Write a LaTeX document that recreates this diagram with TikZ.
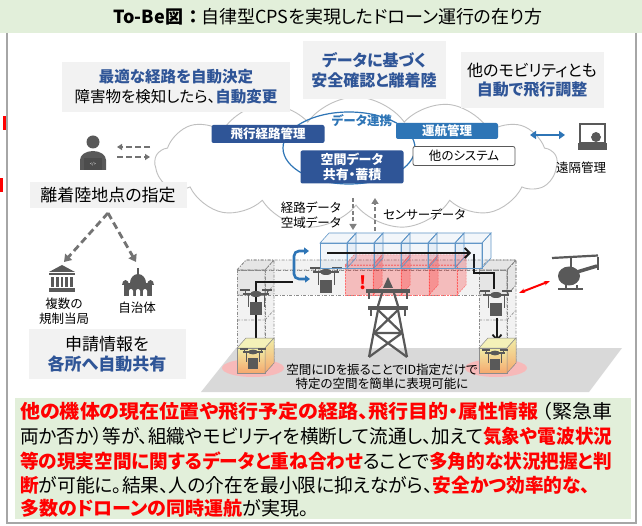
\documentclass[tikz,border=0pt]{standalone}
\usepackage{graphicx}
\usepackage{fontspec}
\setmainfont{Noto Sans CJK JP}[RawFeature=+palt]
\usetikzlibrary{shapes.symbols,arrows.meta}

\definecolor{bandgreen}{HTML}{E2EFDA}
\definecolor{calloutgray}{HTML}{F2F2F2}
\definecolor{deepblue}{HTML}{2F5597}
\definecolor{midblue}{HTML}{2E75B6}
\definecolor{icongray}{HTML}{595959}
\definecolor{cloudline}{HTML}{BFBFBF}
\definecolor{framegray}{HTML}{A6A6A6}
\definecolor{alertred}{HTML}{FF0000}
\definecolor{padyellow}{HTML}{F1EEA6}
\definecolor{padorange}{HTML}{F5A86E}

\newcommand\fsz[2]{\fontsize{#1pt}{#2pt}\selectfont}
\newcommand\hl[1]{\textcolor{alertred}{\bfseries #1}}
\newcommand\bl[1]{\textcolor{deepblue}{\bfseries #1}}
% set a line of text to a given width, keeping its height
\newcommand\fitline[2]{\resizebox{#1}{\height}{#2}}
% cuboid: style, x, y (front top-left), width, height; depth goes up-right
\newcommand\cuboid[5]{%
  \path[#1] (#2,#3) rectangle ++(#4,#5);
  \path[#1] (#2,#3) -- ++(9,-10) -- ++(#4,0) -- ++(-9,10) -- cycle;
  \path[#1] (#2,#3) ++(#4,0) -- ++(9,-10) -- ++(0,#5) -- ++(-9,10) -- cycle;
}

\tikzset{
  callout/.style={fill=calloutgray, inner sep=0pt, align=center},
  tagbox/.style={rounded corners=2pt, inner sep=0pt, align=center, font=\fsz{12.5}{15}\bfseries, text=white},
  smalllabel/.style={font=\fsz{12.5}{15}, inner sep=0pt, align=center},
  bodyline/.style={anchor=west, inner sep=0pt, font=\fsz{19}{22}},
  cellframe/.style={draw=black!45, dash pattern=on 3pt off 1.5pt on 1pt off 1.5pt, line width=0.6pt, fill=black, fill opacity=0.05},
  bluecell/.style={draw=midblue!75, line width=0.6pt, fill=midblue, fill opacity=0.06},
  redcell/.style={draw=red!55, dash pattern=on 2pt off 1pt, line width=0.5pt, fill=red, fill opacity=0.22},
  padfront/.style={draw=black!45, line width=0.5pt, top color=padyellow, bottom color=padorange},
  padtop/.style={draw=black!45, line width=0.5pt, fill=padyellow!80!white},
  flowdata/.style={draw=black!50, line width=2pt, dash pattern=on 4pt off 2.5pt, -{Triangle[length=6pt,width=7pt]}},
  linkarrow/.style={draw=icongray!85, line width=2.2pt, dash pattern=on 6pt off 3pt, -{Triangle[length=5pt,width=6pt]}},
  routearrow/.style={draw=black!55, line width=2.8pt, dash pattern=on 7pt off 4pt, -{Triangle[length=7pt,width=9pt]}},
  trackline/.style={draw=black!90, line width=1.8pt},
  drone/.pic={
    \draw[icongray, line width=1.4pt] (-16,-19) -- (-6,-19) (6,-19) -- (16,-19);
    \draw[icongray, line width=1pt] (-11,-19) -- (-11,-15) (11,-19) -- (11,-15);
    \draw[icongray, line width=1.8pt] (-13,-15) -- (13,-15);
    \fill[icongray] (0,-15) ellipse (6 and 3);
    \draw[icongray, line width=0.9pt] (-8,-15) -- (-8,-2) (8,-15) -- (8,-2);
    \fill[icongray] (-6,-7) rectangle (6,6);
  }
}

\begin{document}
\begin{tikzpicture}[x=1pt,y=-1pt]
\useasboundingbox (0,0) rectangle (642,526);
\fill[white] (0,0) rectangle (642,526);

% heading band
\fill[bandgreen] (0,0) rectangle (642,33);
\node[font=\fsz{18}{20}, inner sep=0pt] (title) at (328,17) {\textbf{To-Be図\hspace{0.35em}：}\hspace{0.15em}自律型CPSを実現したドローン運行の在り方};

% outer frame and edge marks
\draw[framegray, line width=1.6pt] (7,33) -- (7,523) -- (636,523) -- (636,33);
\fill[alertred] (3,116) rectangle (6,130);
\fill[alertred] (0,178) rectangle (3,192);

% cloud platform
\node[cloud, cloud puffs=13, cloud puff arc=110, aspect=3, draw=cloudline, fill=white, line width=0.9pt, minimum width=402pt, minimum height=132pt] (cloud) at (356,163) {};

% callouts
\node[callout, minimum width=228pt, minimum height=50pt, font=\fsz{15.5}{20}] (optroute) at (176,87)
  {\bl{最適な経路を自動決定}\\障害物を検知したら、\bl{自動変更}};
\node[callout, minimum width=143pt, minimum height=58pt, font=\fsz{16}{20}] (safety) at (374,70)
  {\bl{データに基づく}\\\bl{安全確認と離着陸}};
\node[callout, minimum width=143pt, minimum height=56pt, font=\fsz{16}{19}] (mobility) at (532,80)
  {他のモビリティとも\\\bl{自動で飛行調整}};

% data linkage inside the cloud
\draw[midblue, line width=1.2pt] (349,148) ellipse (66 and 36);
\node[font=\fsz{12.5}{15}\bfseries, text=midblue, inner sep=0pt] (linklabel) at (362,121) {データ連携};
\node[tagbox, fill=deepblue, minimum width=113pt, minimum height=18pt] (routemgmt) at (268,134) {飛行経路管理};
\node[tagbox, fill=midblue, minimum width=102pt, minimum height=16pt] (opsmgmt) at (447,131) {運航管理};
\node[tagbox, fill=white, draw=icongray, line width=0.8pt, text=black, font=\fsz{12.5}{15}, minimum width=102pt, minimum height=19pt] (othersys) at (464,156) {他のシステム};
\node[tagbox, fill=deepblue, minimum width=103pt, minimum height=33pt, font=\fsz{13}{15}\bfseries] (spacedata) at (352,167) {空間データ\\共有・蓄積};

% operator on the left
\fill[icongray] (93,142) circle (6.5);
\fill[icongray] (80,170) -- (80,160) arc[start angle=180, end angle=360, x radius=13, y radius=9] -- (106,170) -- cycle;
\fill[black!70] (84,158) rectangle (102,170);
\node[text=white, font=\fsz{4}{4}, inner sep=0pt] (code) at (93,164) {</>};
\coordinate (opA) at (150,147);
\coordinate (opB) at (117,147);
\coordinate (opC) at (117,157);
\coordinate (opD) at (150,157);
\draw[linkarrow] (opA) -- (opB);
\draw[linkarrow] (opC) -- (opD);

% take-off and landing designation
\node[callout, minimum width=157pt, minimum height=26pt, font=\fsz{17}{20}] (site) at (108,195) {離着陸地点の指定};
\coordinate (apex) at (108,213);
\coordinate (gov) at (64,262);
\coordinate (town) at (136,262);
\draw[routearrow] (apex) -- (gov);
\draw[routearrow] (apex) -- (town);

% regulator building
\fill[icongray] (49,272) -- (62,265) -- (75,272) -- cycle;
\fill[icongray] (49,273) rectangle (75,275.5);
\foreach \cx in {52.5,57.3,62,66.7,71.5} \fill[icongray] (\cx-1.3,277) rectangle (\cx+1.3,287.5);
\fill[icongray] (49,288.5) rectangle (75,292);
\node[smalllabel] (reglabel) at (64,311) {複数の\\規制当局};

% municipal building
\fill[icongray] (124,283) rectangle (152,296);
\fill[icongray] (130,283) arc[start angle=180, end angle=360, x radius=8, y radius=9] -- cycle;
\draw[icongray, line width=1.2pt] (138,274) -- (138,268);
\fill[icongray] (122,285) arc[start angle=180, end angle=360, x radius=3.5, y radius=5] -- cycle;
\fill[icongray] (147,285) arc[start angle=180, end angle=360, x radius=3.5, y radius=5] -- cycle;
\foreach \wx in {131,138,145} \fill[white] (\wx-2,296) -- (\wx-2,291) arc[start angle=180, end angle=360, radius=2] -- (\wx+2,296) -- cycle;
\node[smalllabel] (townlabel) at (137,308) {自治体};

\node[callout, minimum width=157pt, minimum height=50pt, font=\fsz{17}{20}] (share) at (107,354)
  {申請情報を\\\bl{各所へ自動共有}};

% remote management
\coordinate (remA) at (530,135);
\coordinate (remB) at (565,135);
\draw[midblue, line width=2.5pt, {Triangle[length=6pt,width=8pt]}-{Triangle[length=6pt,width=8pt]}] (remA) -- (remB);
\draw[icongray, line width=2.6pt] (580,124) rectangle (605,143);
\fill[icongray] (578,143) rectangle (607,150);
\fill[icongray] (596,137) circle (5);
\draw[white, line width=0.8pt] (591,136) arc[start angle=180, end angle=360, radius=5];
\node[smalllabel] (remote) at (581,168) {遠隔管理};

% data exchange with the field
\coordinate (dnTop) at (353,198);
\coordinate (dnBot) at (353,230);
\coordinate (upBot) at (375,231);
\coordinate (upTop) at (375,198);
\draw[flowdata] (dnTop) -- (dnBot);
\draw[flowdata] (upBot) -- (upTop);
\node[smalllabel, anchor=east] (routeair) at (341,215) {経路データ\\空域データ};
\node[smalllabel, anchor=west] (sensor) at (383,215) {センサーデータ};

% ground
\fill[black!15] (236,348) -- (622,348) -- (589,392) -- (201,392) -- cycle;
\fill[red!30, opacity=0.8] (253,368) ellipse (31 and 9);
\fill[red!30, opacity=0.8] (496,368) ellipse (31 and 9);

% airspace frame: pillars and bridge
\cuboid{cellframe}{237}{270}{28}{103}
\cuboid{cellframe}{479}{270}{28}{103}
\cuboid{cellframe}{237}{270}{270}{25}
\foreach \px in {237,479} {
  \draw[cellframe, fill=none] (\px,320) -- ++(28,0) -- ++(9,-10);
  \draw[cellframe, fill=none] (\px,295) -- ++(28,0) -- ++(9,-10);
}
\draw[cellframe, fill=none] (265,270) -- (265,295);

% reserved (blocked) cells
\foreach \i in {0,1,2,3} { \cuboid{redcell}{345+28*\i}{265}{28}{30} }
\node[font=\fsz{18}{18}\bfseries, text=alertred, inner sep=0pt] (alert) at (363,283) {!};

% flight tracks
\draw[trackline] (293,282) -- (256,282) -- (256,343);
\draw[trackline] (474,254) -- (474,273) -- (494,273) -- (494,289);
\coordinate (descTop) at (497,318);
\coordinate (descBot) at (497,341);
\draw[trackline, -{Straight Barb[length=5pt,width=9pt]}] (descTop) -- (descBot);

% drones in the airspace
\pic at (256,309) {drone};
\pic at (326,287) {drone};
\pic at (496,310) {drone};

% planned route cells
\foreach \i in {0,...,5} { \cuboid{bluecell}{320+27*\i}{243}{27}{25} }
\coordinate (routeStart) at (327,253);
\coordinate (routeEnd) at (471,253);
\draw[trackline, -{Straight Barb[length=5pt,width=10pt]}] (routeStart) -- (routeEnd);

% avoidance manoeuvre
\draw[midblue, line width=2.6pt, rounded corners=5pt, {Triangle[length=5pt,width=7pt]}-{Triangle[length=5pt,width=7pt]}] (309,251) -- (294,251) -- (294,279) -- (310,279);

% landing pads
\path[padtop] (237,348) -- ++(9,-10) -- ++(28,0) -- ++(-9,10) -- cycle;
\path[padfront] (237,348) rectangle ++(28,25);
\path[padfront] (265,348) -- ++(9,-10) -- ++(0,25) -- ++(-9,10) -- cycle;
\path[padtop] (479,348) -- ++(9,-10) -- ++(28,0) -- ++(-9,10) -- cycle;
\path[padfront] (479,348) rectangle ++(28,25);
\path[padfront] (507,348) -- ++(9,-10) -- ++(0,25) -- ++(-9,10) -- cycle;
\pic[scale=0.8] at (253,364) {drone};
\pic[scale=0.8] at (495,365) {drone};

% power transmission tower
\begin{scope}[icongray, line width=2.2pt, line join=round]
  \fill (383,288) -- (388,277) -- (393,288) -- cycle;
  \fill (366,289) rectangle (410,293.5);
  \fill (368,306) rectangle (408,310.5);
  \draw (369,293) -- (369,299) (407,293) -- (407,299) (371,310) -- (371,316) (405,310) -- (405,316);
  \draw (382,293) -- (378,306) (394,293) -- (398,306);
  \draw (378,310) -- (369,357) (398,310) -- (407,357);
  \draw (378,310) -- (402,333) (398,310) -- (374,333) (374,333) -- (402,333);
  \draw (374,333) -- (407,357) (402,333) -- (369,357);
\end{scope}

% helicopter and separation
\begin{scope}[icongray]
  \draw[line width=2.2pt] (552,258) -- (598,255.5);
  \draw[line width=2pt] (571,258) -- (571,267);
  \fill (569,276) ellipse (11 and 9.5);
  \draw[line width=3.5pt] (577,272) -- (597,266);
  \draw[line width=2pt] (598,257) -- (598,270);
  \draw[line width=1.8pt] (558,289) -- (583,289) (566,285) -- (566,289) (577,285) -- (577,289);
\end{scope}
\coordinate (sepA) at (519,293);
\coordinate (sepB) at (550,281);
\draw[alertred, line width=2pt, {Stealth[length=6pt]}-{Stealth[length=6pt]}] (sepA) -- (sepB);

% spatial ID caption
\node[smalllabel, font=\fsz{12.5}{14}] (caption) at (382,377) {空間にIDを振ることでID指定だけで\\特定の空間を簡単に表現可能に};

% summary
\fill[bandgreen] (15,398) rectangle (631,519);
\node[bodyline] (s1) at (20,411) {\fitline{592pt}{\hl{他の機体の現在位置や飛行予定の経路、飛行目的・属性情報}\,（緊急車}};
\node[bodyline] (s2) at (20,436) {\fitline{592pt}{両か否か）等が、組織やモビリティを横断して流通し、加えて\hl{気象や電波状況}}};
\node[bodyline] (s3) at (20,461) {\fitline{592pt}{\hl{等の現実空間に関するデータと重ね合わせ}ることで\hl{多角的な状況把握と判}}};
\node[bodyline] (s4) at (20,485) {\fitline{570pt}{\hl{断}が可能に。結果、人の介在を最小限に抑えながら、\hl{安全かつ効率的な、}}};
\node[bodyline] (s5) at (20,508) {\hl{多数のドローンの同時運航}が実現。};
\end{tikzpicture}
\end{document}
